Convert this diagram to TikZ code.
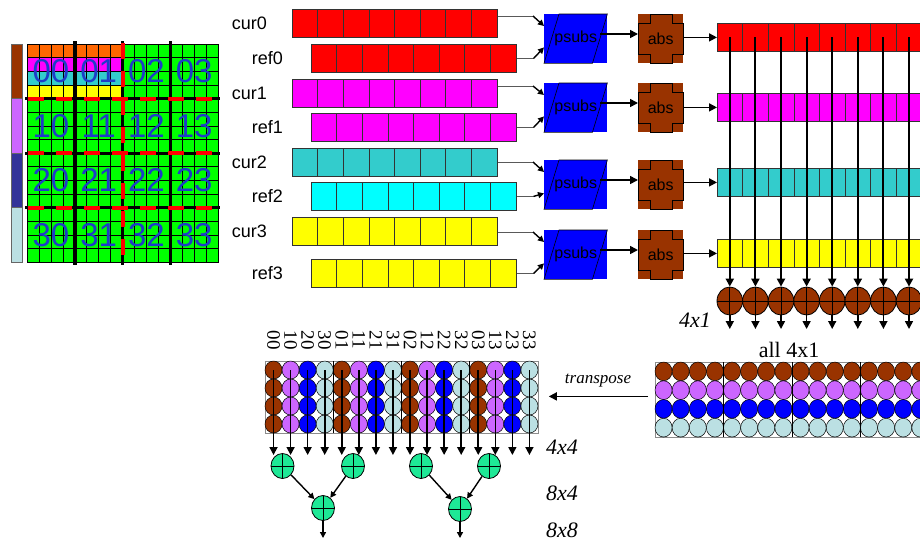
\documentclass[tikz,border=0pt]{standalone}
\usepackage{fontspec}
\setmainfont{Liberation Serif}
\newfontfamily\arialf{Liberation Sans}
\usetikzlibrary{calc, shapes.geometric, arrows.meta, positioning}

\definecolor{brownc}{RGB}{153,51,0}
\definecolor{violetc}{RGB}{204,102,255}
\definecolor{navyc}{RGB}{51,51,153}
\definecolor{pale}{RGB}{187,224,227}
\definecolor{tealc}{RGB}{51,204,204}
\definecolor{orangec}{RGB}{255,102,0}
\definecolor{greenc}{RGB}{0,255,0}
\definecolor{mint}{RGB}{30,232,150}
\definecolor{gridblue}{RGB}{30,60,200}
\definecolor{redc}{RGB}{255,0,0}
\definecolor{magentac}{RGB}{255,0,255}
\definecolor{cyanc}{RGB}{0,255,255}
\definecolor{yellowc}{RGB}{255,255,0}
\definecolor{bluec}{RGB}{0,0,255}

\begin{document}
\begin{tikzpicture}[
    x=1pt, y=-1pt,
    arrow/.style={-{Triangle[length=8pt, width=8pt]}, line width=1.6pt},
    small_arrow/.style={-{Triangle[length=6pt, width=6pt]}, line width=1.4pt},
    feed/.style={draw=black!65, line width=0.7pt},
    array_block/.style={
            rectangle,
            draw=black!80,
            line width=0.8pt,
            inner sep=0pt,
            minimum width=204.8pt,
            minimum height=28pt,
            anchor=north west
        },
    cell_line/.style={draw=black!80, line width=0.6pt},
    row_label/.style={font=\arialf\fontsize{18}{18}\selectfont, inner sep=0pt},
    op_block/.style={
            rectangle,
            inner sep=0pt,
            minimum height=49pt,
            anchor=north west,
            font=\arialf\fontsize{16}{16}\selectfont
        },
    adder/.style={
            ellipse,
            draw=black,
            line width=0.8pt,
            inner sep=0pt,
            path picture={\draw[line width=0.8pt]
                (path picture bounding box.north) -- (path picture bounding box.south)
                (path picture bounding box.west) -- (path picture bounding box.east);}
        },
    dot/.style={ellipse, draw=black, line width=0.5pt, inner sep=0pt},
    size_label/.style={font=\itshape\fontsize{22}{22}\selectfont, inner sep=0pt},
    block_label/.style={font=\arialf\fontsize{33}{33}\selectfont, text=gridblue, inner sep=0pt}
    ]

    \useasboundingbox (0,0) rectangle (920,542);

    % --- Colour bar ---
    \foreach \s/\col in {0/brownc, 1/violetc, 2/navyc, 3/pale}
    \filldraw[fill=\col, draw=black!60, line width=0.6pt] (11,{44+\s*54.5}) rectangle ++(11.5,54.5);

    % --- Block grid ---
    \foreach \r in {0,...,15}
    \foreach \c in {0,...,15}
    \filldraw[fill=greenc, draw=black, line width=0.5pt] ({27+\c*11.94},{44+\r*13.625}) rectangle ++(11.94,13.625);
    \foreach \r/\col in {0/orangec, 1/magentac, 2/tealc, 3/yellowc}
    \foreach \c in {0,...,7}
    \filldraw[fill=\col, draw=black, line width=0.5pt] ({27+\c*11.94},{44+\r*13.625}) rectangle ++(11.94,13.625);

    \foreach \c in {4,12}
    \draw[line width=3.5pt] ({27+\c*11.94},41) -- ++(0,224);
    \draw[line width=3pt] (122.5,41) -- (122.5,265);
    \draw[redc, line width=4pt, dash pattern=on 16pt off 12pt] (122.5,43) -- (122.5,263);
    \foreach \r in {4,8,12} {
        \draw[line width=3pt] (25,{44+\r*13.625}) -- (220,{44+\r*13.625});
        \draw[redc, line width=4pt, dash pattern=on 16pt off 12pt] (28,{44+\r*13.625}) -- (220,{44+\r*13.625});
    }

    \foreach \r in {0,...,3}
    \foreach \g in {0,...,3}
    \node[block_label] (blk\r\g) at ({27+(4*\g+2)*11.94},{44+(4*\r+2)*13.625}) {\r\g};

    % --- cur / ref rows, psubs, abs ---
    \foreach \i/\cy/\ry/\py/\cl/\oy/\curcol/\refcol in {
            0/9/44/14/16/23/redc/redc,
            1/79/113/83/86/93/magentac/magentac,
            2/148/182/160/162/168/tealc/cyanc,
            3/217/259/230/232/239/yellowc/yellowc}
    {
        \node[array_block, fill=\curcol] (cur\i) at (292,\cy) {};
        \node[array_block, fill=\refcol] (ref\i) at (311,\ry) {};
        \node[array_block, fill=\curcol] (out\i) at (717,\oy) {};
        \foreach \k in {1,...,7} {
            \draw[cell_line] ([xshift=\k*25.6pt]cur\i.north west) -- ([xshift=\k*25.6pt]cur\i.south west);
            \draw[cell_line] ([xshift=\k*25.6pt]ref\i.north west) -- ([xshift=\k*25.6pt]ref\i.south west);
            \draw[cell_line] ([xshift=\k*25.6pt]out\i.north west) -- ([xshift=\k*25.6pt]out\i.south west);
        }
        \node[row_label, left=25pt of cur\i] (curl\i) {cur\i};
        \node[row_label, left=28pt of ref\i] (refl\i) {ref\i};

        \node[op_block, fill=bluec, minimum width=63pt] (ps\i) at (544,\py) {psubs};
        \draw[line width=0.6pt] ([xshift=15pt]ps\i.north west) -- (ps\i.north east)
        -- ([xshift=-15pt]ps\i.south east) -- (ps\i.south west) -- cycle;
        \node[op_block, fill=brownc, minimum width=45pt] (ab\i) at (638,\py) {abs};
        \draw[line width=0.6pt] ([xshift=12pt]ab\i.north west) -- ++(22,0) -- ++(0,9) -- ++(11,0)
        -- ++(0,31) -- ++(-11,0) -- ++(0,9) -- ++(-22,0) -- ++(0,-9) -- ++(-12,0)
        -- ++(0,-31) -- ++(12,0) -- cycle;

        % connectors
        \coordinate (cj\i) at (533,\cl);
        \draw[feed] (cur\i.east |- cj\i) -- (cj\i);
        \draw[small_arrow] (cj\i) -- ([yshift=-12pt]ps\i.north west);
        \draw[feed] (ref\i.east) -- ++(17,0) coordinate (rj\i);
        \draw[small_arrow] (rj\i) -- ([yshift=16pt]ps\i.south west);
        \draw[arrow] ([xshift=-7pt, yshift=-20pt]ps\i.north east) -- ([yshift=-20pt]ab\i.north west);
        \draw[arrow] (ab\i.east |- out\i.west) -- (out\i.west);
    }

    % --- Column sums 4x1 ---
    \foreach \k in {0,...,7} {
        \node[adder, fill=brownc, minimum width=25.6pt, minimum height=28pt] (sum\k) at ({729.8+25.6*\k},301) {};
        \coordinate (st\k) at ({729.8+25.6*\k},37);
        \coordinate (se\k) at ({729.8+25.6*\k},329);
        \draw[arrow, line width=2pt] (st\k) -- (sum\k);
        \draw[arrow] (sum\k) -- (se\k);
    }
    \node[size_label] (lbl41) at (695,320) {4x1};

    % --- all 4x1 ---
    \node[rectangle, draw=black!45, line width=0.8pt, inner sep=0pt, minimum width=274pt,
        minimum height=75pt, anchor=north west] (all) at (655,362) {};
    \node[font=\fontsize{22}{22}\selectfont, inner sep=0pt] (alllbl) at (789,350) {all 4x1};
    \foreach \r/\col in {0/brownc, 1/violetc, 2/bluec, 3/pale}
    \foreach \c in {0,...,15}
    \node[dot, fill=\col, minimum width=17.12pt, minimum height=18.75pt] (bq\r-\c) at ({663.56+17.12*\c},{371.4+18.75*\r}) {};
    \foreach \g in {1,2,3}
    \draw[line width=0.8pt] ({655+68.5*\g},362) -- ++(0,75);

    % --- Transpose ---
    \node[rectangle, draw=black!45, line width=0.8pt, inner sep=0pt, minimum width=273pt,
        minimum height=72pt, anchor=north west] (tmat) at (265,361) {};
    \draw[arrow] ([xshift=-7pt, yshift=3.5pt]all.west) -- ([xshift=10pt, yshift=1pt]tmat.east);
    \node[font=\itshape\fontsize{17}{17}\selectfont, inner sep=0pt] (tlbl) at (598,381) {transpose};

    \foreach \g in {0,...,3}
    \foreach \m/\col in {0/brownc, 1/violetc, 2/bluec, 3/pale} {
        \pgfmathsetmacro{\xc}{273.53+17.06*(4*\g+\m)}
        \foreach \r in {0,...,3}
        \node[dot, fill=\col, minimum width=17.06pt, minimum height=18pt] (tq\r-\g\m) at (\xc,{370+18*\r}) {};
        \node[rotate=-90, font=\fontsize{19}{19}\selectfont, inner sep=0pt] (lab\g\m) at (\xc,340) {\m\g};
        \coordinate (ct\g\m) at (\xc,370);
        \coordinate (cb\g\m) at (\xc,455);
        \draw[arrow] (ct\g\m) -- (cb\g\m);
    }
    \foreach \g in {1,2,3}
    \draw[line width=0.8pt] ({265+68.25*\g},361) -- ++(0,72);

    % --- Adder tree ---
    \node[adder, fill=mint, minimum width=23pt, minimum height=25pt] (ga) at (282.5,466) {};
    \node[adder, fill=mint, minimum width=23pt, minimum height=25pt] (gb) at (353,466) {};
    \node[adder, fill=mint, minimum width=23pt, minimum height=25pt] (gc) at (421,466) {};
    \node[adder, fill=mint, minimum width=23pt, minimum height=25pt] (gd) at (489,466) {};
    \node[adder, fill=mint, minimum width=23pt, minimum height=25pt] (ge) at (323,508) {};
    \node[adder, fill=mint, minimum width=23pt, minimum height=25pt] (gf) at (460,509) {};
    \coordinate (geo) at (323,538);
    \coordinate (gfo) at (460,538);
    \draw[small_arrow] (ga) -- (ge);
    \draw[small_arrow] (gb) -- (ge);
    \draw[small_arrow] (gc) -- (gf);
    \draw[small_arrow] (gd) -- (gf);
    \draw[small_arrow] (ge) -- (geo);
    \draw[small_arrow] (gf) -- (gfo);

    \node[size_label] (lbl44) at (562,447) {4x4};
    \node[size_label] (lbl84) at (562,493) {8x4};
    \node[size_label] (lbl88) at (562,530) {8x8};

\end{tikzpicture}
\end{document}
